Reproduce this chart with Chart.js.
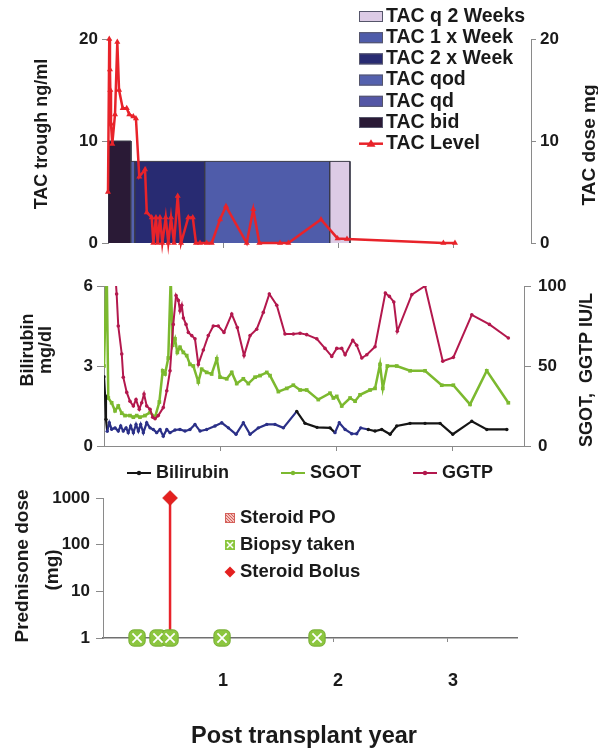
<!DOCTYPE html>
<html><head><meta charset="utf-8">
<script src="https://cdn.jsdelivr.net/npm/chart.js@4.4.0/dist/chart.umd.min.js"></script>
<style>
html,body{margin:0;padding:0;background:#fff;}
#wrap{position:relative;width:598px;height:751px;overflow:hidden;}
canvas{position:absolute;left:0;top:0;}
</style></head><body>
<div id="wrap">
<canvas id="c1" width="598" height="751"></canvas>
<canvas id="c2" width="598" height="751"></canvas>
<canvas id="c3" width="598" height="751"></canvas>
</div>
<script>
// ---------- DATA ----------
// Panel 1: tacrolimus trough level (ng/ml) vs post-transplant year
const tacYears = [0.0,0.011,0.017,0.02,0.026,0.037,0.061,0.081,0.096,0.128,0.163,0.185,0.22,0.243,0.272,0.322,0.337,0.38,0.394,0.417,0.432,0.452,0.472,0.502,0.524,0.548,0.574,0.606,0.635,0.698,0.737,0.765,0.8,0.858,0.902,0.974,1.026,1.206,1.263,1.316,1.496,1.568,1.852,1.996,2.078,2.916,3.017];
const tacLevel = [5,20,17,15,11.7,9.7,12.6,19.7,15,13.2,13.2,12.6,12.4,12.2,6.5,7.2,3.0,2.5,0,2.5,0,2.5,0,2.5,0,2.5,0,4.6,0,2.5,2.5,0,0,0,0,2.3,3.6,0,3.3,0,0,0,2.3,0.45,0.4,0,0];
// Panel 1: TAC dosing regimens (dose mg, from year to year)
const regimenNames = ['TAC q 2 Weeks','TAC 1 x Week','TAC 2 x Week','TAC qod','TAC qd','TAC bid'];
const regimenStart = [1.93,0.843,0.235,0.2,null,0.0];
const regimenEnd   = [2.104,1.93,0.843,0.235,null,0.2];
const regimenDose  = [8,8,8,8,null,10];
const tacLevelName = 'TAC Level';

// Panel 2: liver tests
const biliYears = [0.0,0.009,0.017,0.028,0.046,0.066,0.095,0.123,0.144,0.166,0.19,0.209,0.23,0.253,0.276,0.296,0.316,0.339,0.368,0.397,0.425,0.454,0.483,0.511,0.541,0.569,0.612,0.655,0.698,0.741,0.784,0.828,0.885,0.957,1.015,1.072,1.138,1.201,1.259,1.33,1.403,1.474,1.546,1.661,1.733,1.836,1.948,1.991,2.028,2.078,2.135,2.178,2.213,2.278,2.336,2.394,2.466,2.523,2.638,2.767,2.897,3.006,3.17,3.299,3.472];
const biliValues = [2.6,1.9,1.0,0.55,0.87,0.63,0.68,0.56,0.75,0.56,0.68,0.5,0.75,0.5,0.81,0.56,0.81,0.5,0.87,0.68,0.62,0.5,0.62,0.37,0.62,0.5,0.6,0.62,0.56,0.62,0.81,0.56,0.62,0.75,0.87,0.68,0.44,0.87,0.44,0.68,0.81,0.81,0.68,1.3,0.85,0.7,0.68,0.5,0.87,0.62,0.46,0.46,0.68,0.62,0.56,0.62,0.44,0.75,0.85,0.85,0.85,0.44,0.93,0.62,0.62];
const sgotYears = [0.0,0.009,0.023,0.037,0.066,0.095,0.123,0.153,0.181,0.224,0.253,0.282,0.31,0.353,0.397,0.44,0.477,0.506,0.526,0.554,0.575,0.592,0.612,0.632,0.655,0.684,0.713,0.741,0.77,0.813,0.842,0.885,0.928,0.972,1.0,1.058,1.101,1.144,1.201,1.244,1.302,1.345,1.403,1.431,1.503,1.575,1.632,1.69,1.747,1.847,1.948,1.977,2.006,2.049,2.121,2.164,2.207,2.293,2.336,2.379,2.403,2.442,2.523,2.638,2.767,2.911,3.011,3.155,3.299,3.485];
const sgotValues = [50,75,112,30,27,22,25,20.5,19,19,18,19,18,19,21,18,27.5,47,45,55,105,63,67,58.5,61.7,58.5,56.5,51,50,40,48,46,45,54.5,43,42,46,39,42,39,43,44,46,44,34,36,38,35,35,29,33,30,31,25,30,28,32,35,36,51,36,50,50,47,47,38,38,26,47,27];
const ggtpYears = [0.095,0.109,0.123,0.153,0.166,0.196,0.224,0.253,0.276,0.304,0.325,0.345,0.368,0.397,0.42,0.44,0.468,0.511,0.541,0.569,0.597,0.621,0.641,0.655,0.67,0.684,0.707,0.727,0.756,0.784,0.813,0.856,0.899,0.942,0.985,1.034,1.101,1.149,1.207,1.259,1.316,1.373,1.425,1.489,1.56,1.632,1.69,1.747,1.834,1.905,1.963,2.006,2.049,2.078,2.144,2.178,2.222,2.265,2.336,2.425,2.46,2.498,2.528,2.653,2.767,2.92,3.011,3.17,3.322,3.485];
const ggtpValues = [110,95,75,57.5,43,33.5,28,25,29,23,27,32.5,25,23,18,17,19,24,34.5,47,76,94,91,84.5,88,80,76,71,69,67,51,60,69,75,75,71,82.5,74,56.5,69,73,83.5,95,88,70,70,70.5,69.6,67,61,56,61,61,57,66,63,55,57,62,95.6,93.5,90,71.7,94.6,100,53,55.4,82,76,67.5];
const liverNames = ['Bilirubin','SGOT','GGTP'];

// Panel 3: steroids and biopsies
const biopsyYears = [0.296,0.478,0.583,1.035,1.861];
const biopsyDose  = [1,1,1,1,1];
const bolusYears  = [0.583];
const bolusDose   = [1000];
const steroidPOYears = [];
const steroidPODose  = [];
const steroidNames = ['Steroid PO','Biopsy taken','Steroid Bolus'];
const logTicks = [1,10,100,1000];
const yearTicks = [1,2,3];

// ---------- STYLE ----------
const FONT = '"Liberation Sans", Arial, Helvetica, sans-serif';
const TXT = '#1a1a1a';
const AX = '#8a8a8a';
const tickFont = {family: FONT, size: 17, weight: 'bold'};
const regimenColors = ['#dccbe5','#4f5caa','#282b72','#5461ae','#5457a6','#2a1a36'];
const RED = '#e8232a', GREEN = '#7cb92f', CRIMSON = '#b3184d', NAVY = '#2b3088', BLACK = '#151515';
const biliBlueRanges = [[0.025,1.55],[1.97,2.22]];
const pts = (xs, ys) => xs.map((x,i)=>({x:x, y:ys[i]}));
const isBlue = x => biliBlueRanges.some(r => x >= r[0] && x < r[1]);

function textPlugin(items){
  return {id:'texts', afterDraw(chart){
    const ctx = chart.ctx;
    items.forEach(it=>{
      ctx.save();
      ctx.translate(it.x, it.y);
      if (it.rot) ctx.rotate(it.rot);
      ctx.font = 'bold ' + (it.size||18) + 'px ' + FONT;
      ctx.fillStyle = TXT; ctx.textAlign = it.align || 'center'; ctx.textBaseline = 'middle';
      ctx.fillText(it.text, 0, 0);
      ctx.restore();
    });
  }};
}
function setTicks(vals){ return s => { s.ticks = vals.map(v=>({value:v})); }; }
const baseOpts = () => ({responsive:false, animation:false, events:[], plugins:{legend:{display:false}, tooltip:{enabled:false}}});

// ---------- PANEL 1 ----------
const regimenDatasets = regimenNames.map((name,i)=>({
  label: name, yAxisID:'yR',
  data: regimenStart[i]===null ? [] : [
    {x:regimenStart[i], y:0},{x:regimenStart[i], y:regimenDose[i]},
    {x:regimenEnd[i], y:regimenDose[i]},{x:regimenEnd[i], y:0}],
  backgroundColor: regimenColors[i], borderColor: '#3a3a48', borderWidth: 1,
  fill: 'origin', pointRadius: 0, tension: 0, order: 2
}));
const legend1 = {id:'legend1', afterDraw(chart){
  const ctx = chart.ctx, x0 = 359, w = 24, h = 11, tx = 386, step = 21.2;
  let y = 16.5;
  ctx.save();
  ctx.font = 'bold 19.5px ' + FONT; ctx.textBaseline = 'middle'; ctx.textAlign = 'left';
  regimenNames.forEach((name,i)=>{
    ctx.fillStyle = regimenColors[i]; ctx.fillRect(x0, y-h/2, w, h);
    ctx.strokeStyle = '#55556a'; ctx.lineWidth = 1; ctx.strokeRect(x0+0.5, y-h/2+0.5, w-1, h-1);
    ctx.fillStyle = TXT; ctx.fillText(name, tx, y);
    y += step;
  });
  ctx.strokeStyle = RED; ctx.lineWidth = 2.5; ctx.beginPath(); ctx.moveTo(x0, y); ctx.lineTo(x0+w, y); ctx.stroke();
  ctx.fillStyle = RED; ctx.beginPath(); ctx.moveTo(x0+w/2, y-4.5); ctx.lineTo(x0+w/2+4.5, y+3); ctx.lineTo(x0+w/2-4.5, y+3); ctx.closePath(); ctx.fill();
  ctx.fillStyle = TXT; ctx.fillText(tacLevelName, tx, y);
  ctx.restore();
}};
new Chart(document.getElementById('c1'), {
  type:'line',
  data:{datasets:[{
      label: tacLevelName, yAxisID:'yL', data: pts(tacYears, tacLevel),
      borderColor: RED, backgroundColor: RED, borderWidth: 2.5, tension: 0,
      pointStyle:'triangle', pointRadius: 3.5, pointBorderWidth: 0, clip: 12, order: 0
    }, ...regimenDatasets]},
  options: Object.assign(baseOpts(), {
    layout:{padding:{top:39, bottom:751-243-10, left:0, right:0}},
    scales:{
      x:{type:'linear', min:0, max:3.678, afterFit:s=>{s.height=10;}, afterBuildTicks:setTicks(yearTicks),
         ticks:{display:false}, grid:{drawOnChartArea:false, tickLength:5, color:AX}, border:{display:false}},
      yL:{position:'left', min:0, max:20, afterFit:s=>{s.width=108;},
          ticks:{stepSize:10, padding:4, font:tickFont, color:TXT},
          grid:{drawOnChartArea:false, tickLength:6, color:AX}, border:{color:AX}},
      yR:{position:'right', min:0, max:20, afterFit:s=>{s.width=598-531;},
          ticks:{stepSize:10, padding:4, font:tickFont, color:TXT},
          grid:{drawOnChartArea:false, tickLength:5, color:AX}, border:{color:AX}}
    }
  }),
  plugins:[legend1, textPlugin([
    {text:'TAC trough ng/ml', x:42, y:134, rot:-Math.PI/2},
    {text:'TAC dose mg', x:590, y:145, rot:-Math.PI/2, size:19}
  ])]
});

// ---------- PANEL 2 ----------
const liverColors = [BLACK, GREEN, CRIMSON];
const legend2 = {id:'legend2', afterDraw(chart){
  const ctx = chart.ctx, y = 473, starts = [127,281,413], w = 24;
  ctx.save(); ctx.font = 'bold 18px ' + FONT; ctx.textBaseline = 'middle'; ctx.textAlign = 'left';
  liverNames.forEach((n,i)=>{
    ctx.strokeStyle = liverColors[i]; ctx.lineWidth = 2; ctx.beginPath(); ctx.moveTo(starts[i], y); ctx.lineTo(starts[i]+w, y); ctx.stroke();
    ctx.fillStyle = liverColors[i]; ctx.beginPath(); ctx.arc(starts[i]+w/2, y, 2.2, 0, Math.PI*2); ctx.fill();
    ctx.fillStyle = TXT; ctx.fillText(n, starts[i]+w+5, y);
  });
  ctx.restore();
}};
new Chart(document.getElementById('c2'), {
  type:'line',
  data:{datasets:[
    {label: liverNames[0], yAxisID:'yB', data: pts(biliYears, biliValues), borderWidth: 2.2, tension: 0,
     borderColor: BLACK,
     segment:{borderColor: c => isBlue(c.p0.parsed.x) ? NAVY : BLACK},
     pointRadius: 1.7, pointBorderWidth: 0,
     pointBackgroundColor: c => isBlue(c.raw ? c.raw.x : 0) ? NAVY : BLACK, order: 0},
    {label: liverNames[2], yAxisID:'yS', data: pts(ggtpYears, ggtpValues), borderColor: CRIMSON, backgroundColor: CRIMSON,
     borderWidth: 2, tension: 0, pointRadius: 1.8, pointBorderWidth: 0, order: 1},
    {label: liverNames[1], yAxisID:'yS', data: pts(sgotYears, sgotValues), borderColor: GREEN, backgroundColor: GREEN,
     borderWidth: 2.5, tension: 0, pointStyle:'rect', pointRadius: 2.6, pointBorderWidth: 0, order: 2}
  ]},
  options: Object.assign(baseOpts(), {
    layout:{padding:{top:286, bottom:751-446-10, left:0, right:0}},
    scales:{
      x:{type:'linear', min:0, max:3.62, afterFit:s=>{s.height=10;}, afterBuildTicks:setTicks(yearTicks),
         ticks:{display:false}, grid:{drawOnChartArea:false, tickLength:5, color:AX}, border:{color:AX}},
      yB:{position:'left', min:0, max:6, afterFit:s=>{s.width=104;},
          ticks:{stepSize:3, padding:4, font:tickFont, color:TXT},
          grid:{drawOnChartArea:false, tickLength:7, color:AX}, border:{color:AX}},
      yS:{position:'right', min:0, max:100, afterFit:s=>{s.width=598-524;},
          ticks:{stepSize:50, padding:7, font:tickFont, color:TXT},
          grid:{drawOnChartArea:false, tickLength:7, color:AX}, border:{color:AX}}
    }
  }),
  plugins:[legend2, textPlugin([
    {text:'Bilirubin', x:28, y:350, rot:-Math.PI/2},
    {text:'mg/dl', x:46, y:350, rot:-Math.PI/2},
    {text:'SGOT,  GGTP IU/L', x:587, y:370, rot:-Math.PI/2}
  ])]
});

// ---------- PANEL 3 ----------
const BIO = '#8cc63f';
const legend3 = {id:'legend3', afterDraw(chart){
  const ctx = chart.ctx, mx = 230, tx = 240, ys = [518,545,572];
  ctx.save(); ctx.font = 'bold 18.5px ' + FONT; ctx.textBaseline = 'middle'; ctx.textAlign = 'left';
  // Steroid PO swatch (hatched pink)
  ctx.fillStyle = '#f4c0bc'; ctx.fillRect(mx-5, ys[0]-5, 10, 10);
  ctx.strokeStyle = '#d4605a'; ctx.lineWidth = 1;
  for (let k=-10;k<=10;k+=3){ ctx.beginPath(); ctx.moveTo(mx-5+Math.max(0,k), ys[0]-5+Math.max(0,-k)); ctx.lineTo(mx+5+Math.min(0,k), ys[0]+5+Math.min(0,-k)); ctx.stroke(); }
  ctx.strokeRect(mx-4.5, ys[0]-4.5, 9, 9);
  // Biopsy swatch
  ctx.fillStyle = BIO; ctx.fillRect(mx-5, ys[1]-5, 10, 10);
  ctx.strokeStyle = '#fff'; ctx.lineWidth = 1.5; ctx.beginPath();
  ctx.moveTo(mx-3, ys[1]-3); ctx.lineTo(mx+3, ys[1]+3); ctx.moveTo(mx+3, ys[1]-3); ctx.lineTo(mx-3, ys[1]+3); ctx.stroke();
  // Bolus swatch
  ctx.fillStyle = '#e4201f'; ctx.beginPath(); ctx.moveTo(mx, ys[2]-5.5); ctx.lineTo(mx+5.5, ys[2]); ctx.lineTo(mx, ys[2]+5.5); ctx.lineTo(mx-5.5, ys[2]); ctx.closePath(); ctx.fill();
  ctx.fillStyle = TXT;
  steroidNames.forEach((n,i)=>ctx.fillText(n, tx, ys[i]));
  ctx.restore();
}};
new Chart(document.getElementById('c3'), {
  type:'line',
  data:{datasets:[
    {label: steroidNames[2], data: pts(bolusYears, bolusDose), showLine:false, pointStyle:'rectRot',
     pointRadius: 7.5, pointBackgroundColor:'#e4201f', pointBorderColor:'#c01010', pointBorderWidth:0.5, clip:false, order:0},
    {label: 'biopsyX', data: pts(biopsyYears, biopsyDose), showLine:false, pointStyle:'crossRot',
     pointRadius: 6.5, pointBorderColor:'#ffffff', pointBorderWidth: 1.8, clip:false, order:1},
    {label: steroidNames[1], data: pts(biopsyYears, biopsyDose), showLine:false, pointStyle:'rectRounded',
     pointRadius: 9.5, pointBackgroundColor: BIO, pointBorderColor:'#76ad34', pointBorderWidth: 1, clip:false, order:2},
    {label: 'bolusStem', data: [{x:bolusYears[0], y:logTicks[0]},{x:bolusYears[0], y:bolusDose[0]}],
     borderColor: '#e8232a', borderWidth: 2.5, pointRadius: 0, clip:false, order:3},
    {label: steroidNames[0], data: pts(steroidPOYears, steroidPODose), showLine:false, pointRadius:5,
     pointBackgroundColor:'#f4c0bc', order:4}
  ]},
  options: Object.assign(baseOpts(), {
    layout:{padding:{top:498, bottom:0, left:0, right:598-517}},
    scales:{
      x:{type:'linear', min:0, max:3.6, afterFit:s=>{s.height=751-638;}, afterBuildTicks:setTicks(yearTicks),
         ticks:{padding:28, labelOffset:5, font:{family:FONT, size:18, weight:'bold'}, color:TXT, maxRotation:0},
         grid:{drawOnChartArea:false, tickLength:4, color:AX}, border:{color:'#707070', width:1.5}},
      y:{type:'logarithmic', position:'left', min:1, max:1000, afterFit:s=>{s.width=103;},
         afterBuildTicks:setTicks(logTicks),
         ticks:{padding:6, font:tickFont, color:TXT, callback:v=>String(v)},
         grid:{drawOnChartArea:false, tickLength:7, color:AX}, border:{color:AX}}
    }
  }),
  plugins:[legend3, textPlugin([
    {text:'Prednisone dose', x:23, y:566, rot:-Math.PI/2, size:19},
    {text:'(mg)', x:53, y:570, rot:-Math.PI/2, size:19},
    {text:'Post transplant year', x:304, y:737, size:23.5}
  ])]
});
</script>
</body></html>
